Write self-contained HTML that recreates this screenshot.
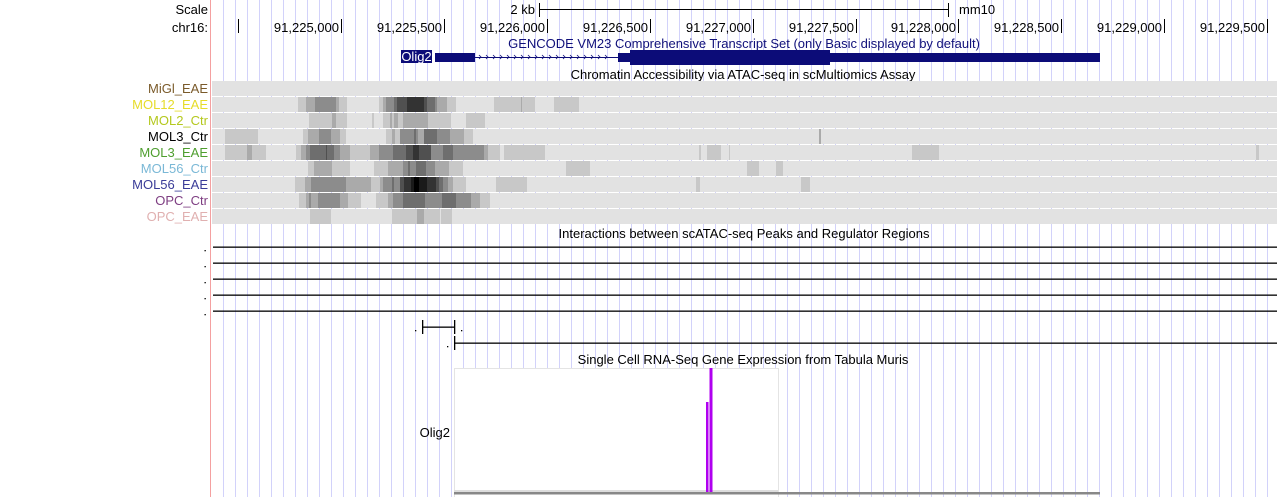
<!DOCTYPE html>
<html><head><meta charset="utf-8"><style>
html,body{margin:0;padding:0;background:#fff;width:1277px;height:497px;overflow:hidden}
svg{display:block;font-family:"Liberation Sans",sans-serif}
</style></head><body>
<svg width="1277" height="497" viewBox="0 0 1277 497" xmlns="http://www.w3.org/2000/svg">
<path stroke="#d2d2fa" stroke-width="1" fill="none" d="M223.5 0V497M235.5 0V497M247.5 0V497M259.5 0V497M271.5 0V497M283.5 0V497M295.5 0V497M307.5 0V497M319.5 0V497M331.5 0V497M343.5 0V497M355.5 0V497M367.5 0V497M379.5 0V497M391.5 0V497M403.5 0V497M415.5 0V497M427.5 0V497M439.5 0V497M451.5 0V497M463.5 0V497M475.5 0V497M487.5 0V497M499.5 0V497M511.5 0V497M523.5 0V497M535.5 0V497M547.5 0V497M559.5 0V497M571.5 0V497M583.5 0V497M595.5 0V497M607.5 0V497M619.5 0V497M631.5 0V497M643.5 0V497M655.5 0V497M667.5 0V497M679.5 0V497M691.5 0V497M703.5 0V497M715.5 0V497M727.5 0V497M739.5 0V497M751.5 0V497M763.5 0V497M775.5 0V497M787.5 0V497M799.5 0V497M811.5 0V497M823.5 0V497M835.5 0V497M847.5 0V497M859.5 0V497M871.5 0V497M883.5 0V497M895.5 0V497M907.5 0V497M919.5 0V497M931.5 0V497M943.5 0V497M955.5 0V497M967.5 0V497M979.5 0V497M991.5 0V497M1003.5 0V497M1015.5 0V497M1027.5 0V497M1039.5 0V497M1051.5 0V497M1063.5 0V497M1075.5 0V497M1087.5 0V497M1099.5 0V497M1111.5 0V497M1123.5 0V497M1135.5 0V497M1147.5 0V497M1159.5 0V497M1171.5 0V497M1183.5 0V497M1195.5 0V497M1207.5 0V497M1219.5 0V497M1231.5 0V497M1243.5 0V497M1255.5 0V497M1267.5 0V497"/>
<rect x="210" y="0" width="1" height="497" fill="#f4a0a0"/>

<!-- scale -->
<g font-size="13" fill="#000">
<text x="208" y="14" text-anchor="end">Scale</text>
<text x="208" y="32" text-anchor="end">chr16:</text>
<text x="535" y="14" text-anchor="end">2 kb</text>
<text x="959" y="14">mm10</text>
</g>
<rect x="539" y="3" width="1" height="14" fill="#000"/>
<rect x="948" y="3" width="1" height="14" fill="#000"/>
<rect x="539" y="9" width="410" height="1" fill="#000"/>
<g fill="#000">
<rect x="238" y="19" width="1" height="14"/>
<rect x="341" y="19" width="1" height="14"/>
<rect x="444" y="19" width="1" height="14"/>
<rect x="547" y="19" width="1" height="14"/>
<rect x="650" y="19" width="1" height="14"/>
<rect x="753" y="19" width="1" height="14"/>
<rect x="856" y="19" width="1" height="14"/>
<rect x="958" y="19" width="1" height="14"/>
<rect x="1061" y="19" width="1" height="14"/>
<rect x="1164" y="19" width="1" height="14"/>
<rect x="1267" y="19" width="1" height="14"/>
</g>
<g font-size="13" text-anchor="end" fill="#000">
<text x="339" y="32">91,225,000</text>
<text x="442" y="32">91,225,500</text>
<text x="545" y="32">91,226,000</text>
<text x="648" y="32">91,226,500</text>
<text x="751" y="32">91,227,000</text>
<text x="854" y="32">91,227,500</text>
<text x="956" y="32">91,228,000</text>
<text x="1059" y="32">91,228,500</text>
<text x="1162" y="32">91,229,000</text>
<text x="1265" y="32">91,229,500</text>
</g>

<!-- gene -->
<text x="744" y="48" font-size="13" text-anchor="middle" fill="#10107a">GENCODE VM23 Comprehensive Transcript Set (only Basic displayed by default)</text>
<rect x="401" y="50" width="31" height="13" fill="#0c0c78"/>
<text x="416.5" y="61" font-size="13" text-anchor="middle" fill="#fff">Olig2</text>
<rect x="435" y="53" width="40" height="9" fill="#0c0c78"/>
<rect x="475" y="57" width="143" height="1" fill="#0c0c78"/>
<g stroke="#0c0c78" stroke-width="0.8" fill="none">
<path d="M479 55l2 2l-2 2M486 55l2 2l-2 2M493 55l2 2l-2 2M500 55l2 2l-2 2M507 55l2 2l-2 2M514 55l2 2l-2 2M521 55l2 2l-2 2M528 55l2 2l-2 2M535 55l2 2l-2 2M542 55l2 2l-2 2M549 55l2 2l-2 2M556 55l2 2l-2 2M563 55l2 2l-2 2M570 55l2 2l-2 2M577 55l2 2l-2 2M584 55l2 2l-2 2M591 55l2 2l-2 2M598 55l2 2l-2 2M605 55l2 2l-2 2"/>
</g>
<rect x="618" y="53" width="12" height="9" fill="#0c0c78"/>
<rect x="630" y="50" width="200" height="15" fill="#0c0c78"/>
<rect x="830" y="53" width="270" height="9" fill="#0c0c78"/>

<text x="743" y="79" font-size="13" text-anchor="middle" fill="#000">Chromatin Accessibility via ATAC-seq in scMultiomics Assay</text>

<!-- labels -->
<g font-size="13" text-anchor="end">
<text x="208" y="93" fill="#7a5a2a">MiGl_EAE</text>
<text x="208" y="109" fill="#e6dc2a">MOL12_EAE</text>
<text x="208" y="125" fill="#b4c81e">MOL2_Ctr</text>
<text x="208" y="141" fill="#000">MOL3_Ctr</text>
<text x="208" y="157" fill="#4e9e2e">MOL3_EAE</text>
<text x="208" y="173" fill="#7ab8d6">MOL56_Ctr</text>
<text x="208" y="189" fill="#3a3c98">MOL56_EAE</text>
<text x="208" y="205" fill="#7e3e82">OPC_Ctr</text>
<text x="208" y="221" fill="#e0b0b0">OPC_EAE</text>
</g>

<!-- heatmap rows -->
<g>
<rect x="212" y="81" width="1065" height="15" fill="#e2e2e2"/>
<rect x="212" y="97" width="1065" height="15" fill="#e2e2e2"/>
<rect x="212" y="113" width="1065" height="15" fill="#e2e2e2"/>
<rect x="212" y="129" width="1065" height="15" fill="#e2e2e2"/>
<rect x="212" y="145" width="1065" height="15" fill="#e2e2e2"/>
<rect x="212" y="161" width="1065" height="15" fill="#e2e2e2"/>
<rect x="212" y="177" width="1065" height="15" fill="#e2e2e2"/>
<rect x="212" y="193" width="1065" height="15" fill="#e2e2e2"/>
<rect x="212" y="209" width="1065" height="15" fill="#e2e2e2"/>
</g>
<g transform="translate(0,97)">
<rect x="298" width="8" height="15" fill="#c8c8c8"/><rect x="306" width="9" height="15" fill="#aaa"/><rect x="315" width="21" height="15" fill="#8c8c8c"/><rect x="336" width="3" height="15" fill="#aaa"/><rect x="339" width="8" height="15" fill="#c8c8c8"/>
<rect x="379" width="4" height="15" fill="#c8c8c8"/><rect x="383" width="3" height="15" fill="#aaa"/><rect x="386" width="8" height="15" fill="#8c8c8c"/><rect x="394" width="3" height="15" fill="#6e6e6e"/><rect x="397" width="10" height="15" fill="#505050"/><rect x="407" width="17" height="15" fill="#333"/><rect x="424" width="3" height="15" fill="#505050"/><rect x="427" width="8" height="15" fill="#6e6e6e"/><rect x="435" width="2" height="15" fill="#8c8c8c"/><rect x="437" width="10" height="15" fill="#aaa"/><rect x="447" width="9" height="15" fill="#c8c8c8"/>
<rect x="494" width="27" height="15" fill="#c8c8c8"/><rect x="521" width="1" height="15" fill="#aaa"/><rect x="522" width="13" height="15" fill="#c8c8c8"/><rect x="554" width="4" height="15" fill="#c8c8c8"/><rect x="558" width="21" height="15" fill="#c8c8c8"/>
</g>
<g transform="translate(0,113)">
<rect x="309" width="23" height="15" fill="#c8c8c8"/><rect x="332" width="4" height="15" fill="#aaa"/><rect x="336" width="11" height="15" fill="#c8c8c8"/><rect x="372" width="2" height="15" fill="#c8c8c8"/>
<rect x="383" width="7" height="15" fill="#c8c8c8"/><rect x="390" width="2" height="15" fill="#aaa"/><rect x="392" width="2" height="15" fill="#c8c8c8"/><rect x="394" width="4" height="15" fill="#aaa"/><rect x="398" width="5" height="15" fill="#c8c8c8"/><rect x="403" width="25" height="15" fill="#aaa"/><rect x="428" width="23" height="15" fill="#c8c8c8"/><rect x="466" width="19" height="15" fill="#c8c8c8"/>
</g>
<g transform="translate(0,129)">
<rect x="225" width="33" height="15" fill="#c8c8c8"/><rect x="303" width="5" height="15" fill="#c8c8c8"/><rect x="308" width="11" height="15" fill="#aaa"/><rect x="319" width="12" height="15" fill="#8c8c8c"/><rect x="331" width="9" height="15" fill="#aaa"/><rect x="340" width="6" height="15" fill="#c8c8c8"/>
<rect x="386" width="6" height="15" fill="#c8c8c8"/><rect x="392" width="3" height="15" fill="#aaa"/><rect x="395" width="5" height="15" fill="#c8c8c8"/><rect x="400" width="14" height="15" fill="#8c8c8c"/><rect x="414" width="2" height="15" fill="#6e6e6e"/><rect x="416" width="2" height="15" fill="#8c8c8c"/><rect x="418" width="6" height="15" fill="#aaa"/><rect x="424" width="13" height="15" fill="#6e6e6e"/><rect x="437" width="13" height="15" fill="#8c8c8c"/><rect x="450" width="14" height="15" fill="#aaa"/><rect x="464" width="9" height="15" fill="#c8c8c8"/>
<rect x="819" width="2" height="15" fill="#aaa"/>
</g>
<g transform="translate(0,145)">
<rect x="225" width="22" height="15" fill="#c8c8c8"/><rect x="247" width="5" height="15" fill="#aaa"/><rect x="252" width="14" height="15" fill="#c8c8c8"/>
<rect x="296" width="5" height="15" fill="#c8c8c8"/><rect x="301" width="5" height="15" fill="#aaa"/><rect x="306" width="4" height="15" fill="#8c8c8c"/><rect x="310" width="16" height="15" fill="#6e6e6e"/><rect x="326" width="1" height="15" fill="#505050"/><rect x="327" width="7" height="15" fill="#6e6e6e"/><rect x="334" width="6" height="15" fill="#8c8c8c"/><rect x="340" width="10" height="15" fill="#aaa"/><rect x="350" width="20" height="15" fill="#c8c8c8"/><rect x="370" width="9" height="15" fill="#aaa"/><rect x="379" width="14" height="15" fill="#8c8c8c"/><rect x="393" width="13" height="15" fill="#6e6e6e"/><rect x="406" width="7" height="15" fill="#505050"/><rect x="413" width="6" height="15" fill="#333"/><rect x="419" width="12" height="15" fill="#505050"/><rect x="431" width="12" height="15" fill="#8c8c8c"/><rect x="443" width="10" height="15" fill="#6e6e6e"/><rect x="453" width="31" height="15" fill="#8c8c8c"/><rect x="484" width="4" height="15" fill="#aaa"/><rect x="488" width="12" height="15" fill="#c8c8c8"/><rect x="504" width="41" height="15" fill="#c8c8c8"/>
<rect x="699" width="2" height="15" fill="#c8c8c8"/><rect x="707" width="14" height="15" fill="#c8c8c8"/><rect x="729" width="1" height="15" fill="#c8c8c8"/><rect x="912" width="27" height="15" fill="#c8c8c8"/><rect x="1256" width="3" height="15" fill="#c8c8c8"/>
</g>
<g transform="translate(0,161)">
<rect x="308" width="6" height="15" fill="#c8c8c8"/><rect x="314" width="18" height="15" fill="#aaa"/><rect x="332" width="18" height="15" fill="#c8c8c8"/>
<rect x="374" width="14" height="15" fill="#c8c8c8"/><rect x="388" width="15" height="15" fill="#aaa"/><rect x="403" width="5" height="15" fill="#8c8c8c"/><rect x="408" width="2" height="15" fill="#6e6e6e"/><rect x="410" width="6" height="15" fill="#8c8c8c"/><rect x="416" width="10" height="15" fill="#6e6e6e"/><rect x="426" width="9" height="15" fill="#8c8c8c"/><rect x="435" width="14" height="15" fill="#aaa"/><rect x="449" width="14" height="15" fill="#c8c8c8"/>
<rect x="566" width="24" height="15" fill="#c8c8c8"/><rect x="747" width="12" height="15" fill="#c8c8c8"/><rect x="776" width="7" height="15" fill="#c8c8c8"/>
</g>
<g transform="translate(0,177)">
<rect x="295" width="10" height="15" fill="#c8c8c8"/><rect x="305" width="6" height="15" fill="#aaa"/><rect x="311" width="35" height="15" fill="#8c8c8c"/><rect x="346" width="25" height="15" fill="#aaa"/><rect x="371" width="9" height="15" fill="#c8c8c8"/><rect x="380" width="3" height="15" fill="#aaa"/><rect x="383" width="9" height="15" fill="#8c8c8c"/><rect x="392" width="2" height="15" fill="#6e6e6e"/><rect x="394" width="6" height="15" fill="#8c8c8c"/><rect x="400" width="4" height="15" fill="#505050"/><rect x="404" width="7" height="15" fill="#333"/><rect x="411" width="3" height="15" fill="#1a1a1a"/><rect x="414" width="5" height="15" fill="#000"/><rect x="419" width="8" height="15" fill="#1a1a1a"/><rect x="427" width="9" height="15" fill="#333"/><rect x="436" width="3" height="15" fill="#505050"/><rect x="439" width="4" height="15" fill="#6e6e6e"/><rect x="443" width="5" height="15" fill="#8c8c8c"/><rect x="448" width="5" height="15" fill="#aaa"/><rect x="453" width="13" height="15" fill="#c8c8c8"/>
<rect x="496" width="31" height="15" fill="#c8c8c8"/><rect x="696" width="4" height="15" fill="#c8c8c8"/><rect x="801" width="9" height="15" fill="#c8c8c8"/>
</g>
<g transform="translate(0,193)">
<rect x="299" width="7" height="15" fill="#c8c8c8"/><rect x="306" width="3" height="15" fill="#aaa"/><rect x="309" width="2" height="15" fill="#8c8c8c"/><rect x="311" width="7" height="15" fill="#aaa"/><rect x="318" width="22" height="15" fill="#8c8c8c"/><rect x="340" width="8" height="15" fill="#aaa"/><rect x="348" width="13" height="15" fill="#c8c8c8"/>
<rect x="376" width="12" height="15" fill="#c8c8c8"/><rect x="388" width="5" height="15" fill="#aaa"/><rect x="393" width="10" height="15" fill="#8c8c8c"/><rect x="403" width="22" height="15" fill="#6e6e6e"/><rect x="425" width="17" height="15" fill="#8c8c8c"/><rect x="442" width="14" height="15" fill="#6e6e6e"/><rect x="456" width="15" height="15" fill="#8c8c8c"/><rect x="471" width="9" height="15" fill="#aaa"/><rect x="480" width="10" height="15" fill="#c8c8c8"/>
</g>
<g transform="translate(0,209)">
<rect x="310" width="21" height="15" fill="#c8c8c8"/><rect x="392" width="25" height="15" fill="#c8c8c8"/><rect x="417" width="7" height="15" fill="#aaa"/><rect x="424" width="16" height="15" fill="#c8c8c8"/><rect x="441" width="11" height="15" fill="#c8c8c8"/>
</g>

<!-- interactions -->
<text x="744" y="238" font-size="13" text-anchor="middle" fill="#000">Interactions between scATAC-seq Peaks and Regulator Regions</text>
<g fill="#000">
<rect x="213" y="246.5" width="1064" height="1.3"/>
<rect x="213" y="262.5" width="1064" height="1.3"/>
<rect x="213" y="278.5" width="1064" height="1.3"/>
<rect x="213" y="294.5" width="1064" height="1.3"/>
<rect x="213" y="310.5" width="1064" height="1.3"/>
<rect x="204.5" y="250" width="1.3" height="1.3"/>
<rect x="204.5" y="266" width="1.3" height="1.3"/>
<rect x="204.5" y="282" width="1.3" height="1.3"/>
<rect x="204.5" y="298" width="1.3" height="1.3"/>
<rect x="204.5" y="314" width="1.3" height="1.3"/>
<rect x="422" y="320" width="1.3" height="14"/>
<rect x="454" y="320" width="1.3" height="14"/>
<rect x="422" y="326.5" width="32" height="1.3"/>
<rect x="415" y="330" width="1.3" height="1.3"/>
<rect x="461" y="330" width="1.3" height="1.3"/>
<rect x="454" y="336" width="1.3" height="14"/>
<rect x="454" y="342.5" width="823" height="1.3"/>
<rect x="447" y="346" width="1.3" height="1.3"/>
</g>

<!-- expression -->
<text x="743" y="364" font-size="13" text-anchor="middle" fill="#000">Single Cell RNA-Seq Gene Expression from Tabula Muris</text>
<rect x="454.5" y="368.5" width="324" height="129" fill="#fff" stroke="#e4e4e4" stroke-width="1"/>
<rect x="454" y="490" width="324" height="2" fill="#ddd"/>
<rect x="454" y="492" width="646" height="2.5" fill="#888"/>
<rect x="706" y="402" width="2.5" height="90" fill="#b000f0"/>
<rect x="709.5" y="368" width="3" height="124" fill="#b000f0"/>
<text x="450" y="437" font-size="13" text-anchor="end" fill="#000">Olig2</text>
</svg>
</body></html>
